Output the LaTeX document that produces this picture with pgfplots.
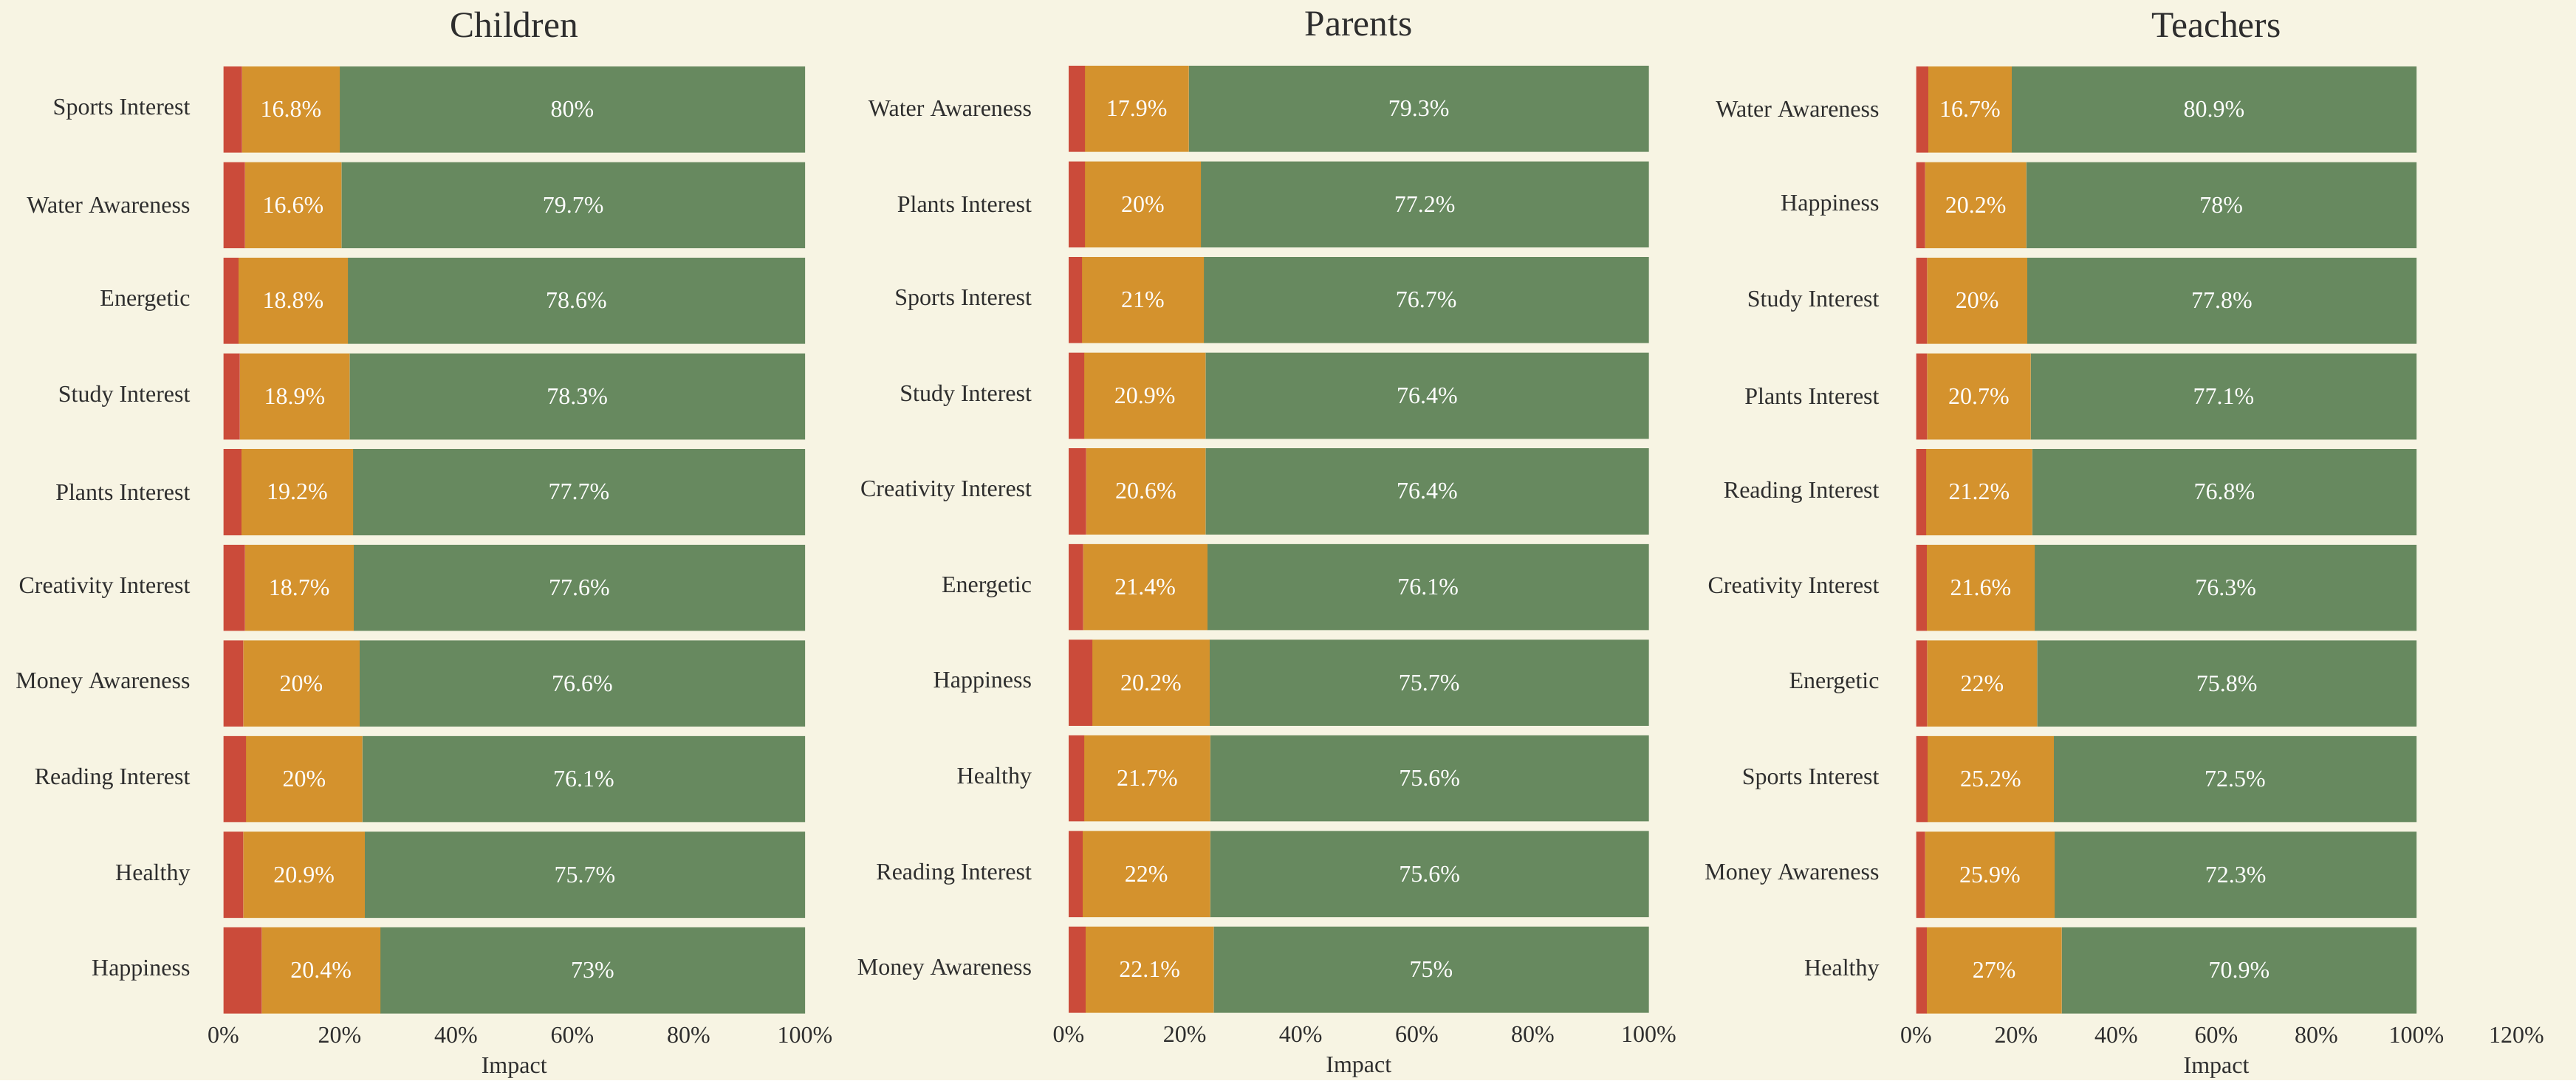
\documentclass[border=0pt]{standalone}
\usepackage{pgfplots}
\usepackage{pgfplotstable}
\pgfplotsset{compat=1.18}
\usepackage{fontspec}
\setmainfont{Liberation Serif}
\definecolor{bg}{HTML}{F7F4E3}
\definecolor{cred}{HTML}{CB4B3A}
\definecolor{corange}{HTML}{D4922D}
\definecolor{cgreen}{HTML}{67895F}
\definecolor{ctext}{HTML}{2E2E2E}

\pgfplotstableread[col sep=comma]{
idx,name,red,orange,green
0,Sports Interest,3.2,16.8,80
1,Water Awareness,3.7,16.6,79.7
2,Energetic,2.6,18.8,78.6
3,Study Interest,2.8,18.9,78.3
4,Plants Interest,3.1,19.2,77.7
5,Creativity Interest,3.7,18.7,77.6
6,Money Awareness,3.4,20,76.6
7,Reading Interest,3.9,20,76.1
8,Healthy,3.4,20.9,75.7
9,Happiness,6.6,20.4,73
}\children

\pgfplotstableread[col sep=comma]{
idx,name,red,orange,green
0,Water Awareness,2.8,17.9,79.3
1,Plants Interest,2.8,20,77.2
2,Sports Interest,2.3,21,76.7
3,Study Interest,2.7,20.9,76.4
4,Creativity Interest,3.0,20.6,76.4
5,Energetic,2.5,21.4,76.1
6,Happiness,4.1,20.2,75.7
7,Healthy,2.7,21.7,75.6
8,Reading Interest,2.4,22,75.6
9,Money Awareness,2.9,22.1,75
}\parents

\pgfplotstableread[col sep=comma]{
idx,name,red,orange,green
0,Water Awareness,2.4,16.7,80.9
1,Happiness,1.8,20.2,78
2,Study Interest,2.2,20,77.8
3,Plants Interest,2.2,20.7,77.1
4,Reading Interest,2.0,21.2,76.8
5,Creativity Interest,2.1,21.6,76.3
6,Energetic,2.2,22,75.8
7,Sports Interest,2.3,25.2,72.5
8,Money Awareness,1.8,25.9,72.3
9,Healthy,2.1,27,70.9
}\teachers

\newcommand{\smallf}{\fontsize{6.4}{7.5}\selectfont}
\newcommand{\titlef}{\fontsize{9.9}{11}\selectfont}

\pgfplotsset{
  base/.style={scale only axis, height=259.1pt, ymin=-0.5, ymax=9.5, y dir=reverse,
    xmin=0, anchor=north west, /pgf/number format/assume math mode=true},
  panel/.style={base, xbar stacked, bar width=0.9,
    axis line style={draw=none}, major tick length=0pt,
    ytick={0,...,9},
    xticklabel={\pgfmathprintnumber{\tick}\%},
    ticklabel style={font=\smallf, text=ctext},
    yticklabel style={anchor=east, inner sep=0pt, xshift=-9.8pt},
    xticklabel style={anchor=north, inner sep=0pt, yshift=-2.3pt},
    xlabel={Impact},
    xlabel style={at={(axis description cs:0.5,0)}, anchor=center, yshift=-13.5pt, font=\smallf, text=ctext},
    title style={at={(axis description cs:0.5,1)}, anchor=center, yshift=4pt, font=\titlef, text=ctext},
  },
  lbl/.style={base, hide axis},
  lblplot/.style={draw=none, mark=none, only marks, point meta=explicit,
    nodes near coords={\pgfmathprintnumber{\pgfplotspointmeta}\%},
    nodes near coords style={anchor=center, text=white, font=\smallf}},
}

\begin{document}
\begin{tikzpicture}
\fill[bg] (0,0) rectangle (697.6pt,-292.6pt);

% Children
\begin{axis}[panel, at={(60.5pt,-16.7pt)}, width=157.5pt, xmax=100, xtick={0,20,...,100},
  yticklabel style={xshift=1pt},
  yticklabels from table={\children}{name}, title={Children}]
\addplot[fill=cred, draw=none] table[x=red, y=idx] {\children};
\addplot[fill=corange, draw=none] table[x=orange, y=idx] {\children};
\addplot[fill=cgreen, draw=none] table[x=green, y=idx] {\children};
\end{axis}
\begin{axis}[lbl, at={(60.5pt,-16.7pt)}, width=157.5pt, xmax=100]
\addplot[lblplot] table[x expr=\thisrow{red}+\thisrow{orange}/2, y=idx, meta=orange] {\children};
\addplot[lblplot] table[x expr=\thisrow{red}+\thisrow{orange}+\thisrow{green}/2, y=idx, meta=green] {\children};
\end{axis}

% Parents
\begin{axis}[panel, at={(289.4pt,-16.5pt)}, width=157.1pt, xmax=100, xtick={0,20,...,100},
  yticklabels from table={\parents}{name}, title={Parents}]
\addplot[fill=cred, draw=none] table[x=red, y=idx] {\parents};
\addplot[fill=corange, draw=none] table[x=orange, y=idx] {\parents};
\addplot[fill=cgreen, draw=none] table[x=green, y=idx] {\parents};
\end{axis}
\begin{axis}[lbl, at={(289.4pt,-16.5pt)}, width=157.1pt, xmax=100]
\addplot[lblplot] table[x expr=\thisrow{red}+\thisrow{orange}/2, y=idx, meta=orange] {\parents};
\addplot[lblplot] table[x expr=\thisrow{red}+\thisrow{orange}+\thisrow{green}/2, y=idx, meta=green] {\parents};
\end{axis}

% Teachers
\begin{axis}[panel, at={(518.9pt,-16.7pt)}, width=162.6pt, xmax=120, xtick={0,20,...,120},
  yticklabels from table={\teachers}{name}, title={Teachers}]
\addplot[fill=cred, draw=none] table[x=red, y=idx] {\teachers};
\addplot[fill=corange, draw=none] table[x=orange, y=idx] {\teachers};
\addplot[fill=cgreen, draw=none] table[x=green, y=idx] {\teachers};
\end{axis}
\begin{axis}[lbl, at={(518.9pt,-16.7pt)}, width=162.6pt, xmax=120]
\addplot[lblplot] table[x expr=\thisrow{red}+\thisrow{orange}/2, y=idx, meta=orange] {\teachers};
\addplot[lblplot] table[x expr=\thisrow{red}+\thisrow{orange}+\thisrow{green}/2, y=idx, meta=green] {\teachers};
\end{axis}

\pgfresetboundingbox
\path[use as bounding box] (0,0) rectangle (697.6pt,-292.6pt);
\end{tikzpicture}
\end{document}
